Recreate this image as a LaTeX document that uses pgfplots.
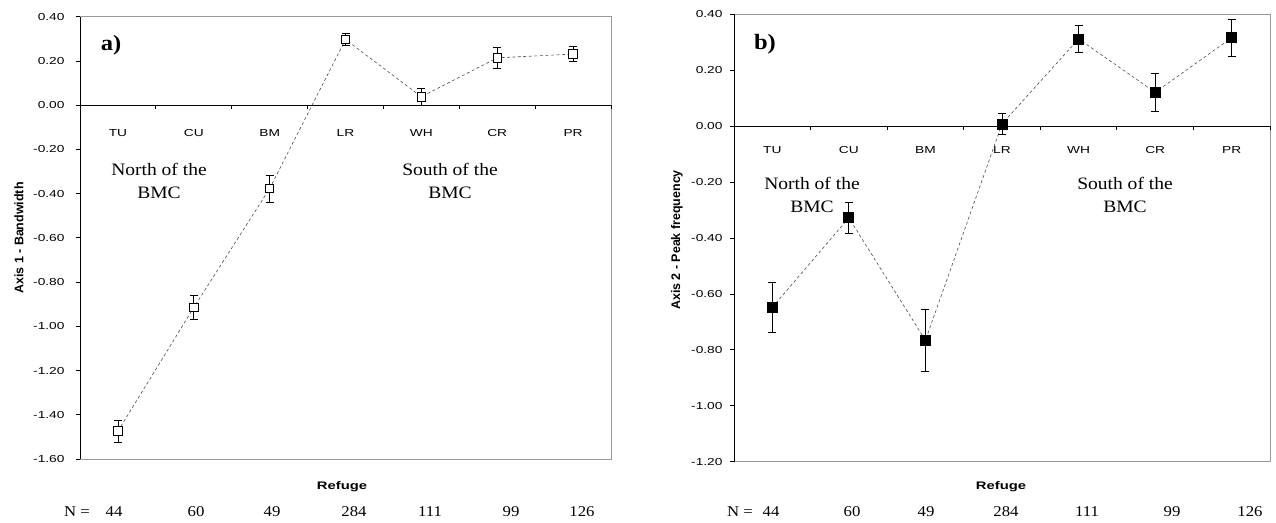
\documentclass[border=0pt]{standalone}
\usepackage{pgfplots}
\usepackage{pgfplotstable}
\pgfplotsset{compat=1.18}
\usepackage{fontspec}
\setmainfont{Liberation Serif}
\newfontfamily\arialw[FakeStretch=1.35]{Liberation Sans}
\newfontfamily\arial{Liberation Sans}
\newfontfamily\timesw[FakeStretch=1.12]{Liberation Serif}

% Panel a: Axis 1 - Bandwidth (mean, half error bar)
\pgfplotstableread{
x y e
0 -1.474 0.049
1 -0.915 0.053
2 -0.377 0.061
3 0.297 0.028
4 0.038 0.040
5 0.214 0.046
6 0.231 0.035
}\dataA
% Panel b: Axis 2 - Peak frequency
\pgfplotstableread{
x y e
0 -0.648 0.088
1 -0.328 0.056
2 -0.766 0.110
3 0.008 0.039
4 0.312 0.048
5 0.121 0.068
6 0.316 0.066
}\dataB

\pgfplotsset{
  panel/.style={
    scale only axis, anchor=south west,
    xmin=-0.5, xmax=6.5,
    axis x line=middle, axis y line=left,
    axis line style={-, black, line width=0.8bp},
    axis background/.style={draw=black!40, line width=0.8bp},
    hide obscured x ticks=false, hide obscured y ticks=false,
    xtick={0,1,2,3,4,5,6},
    xticklabels={TU,CU,BM,LR,WH,CR,PR},
    x tick style={draw=none},
    tick align=outside,
    major tick length=4bp,
    y tick style={black, line width=0.8bp},
    ticklabel style={font=\arialw\fontsize{10.2}{12}\selectfont, text=black},
    yticklabel style={anchor=east},
    clip=false,
  },
  series/.style={
    color=black!70, line width=0.6bp, dash pattern=on 3bp off 2.5bp,
    error bars/y dir=both, error bars/y explicit,
    error bars/error bar style={solid, black, line width=0.8bp},
    error bars/error mark options={rotate=90, solid, black, line width=0.8bp, mark size=4bp},
  },
}

\begin{document}
\begin{tikzpicture}
\useasboundingbox (0bp,0bp) rectangle (1276bp,523bp);

% ---------------- Panel a ----------------
\begin{axis}[panel,
  at={(80bp,64bp)}, width=531bp, height=442.3bp,
  ymin=-1.6, ymax=0.4,
  ytick={-1.6,-1.4,-1.2,-1.0,-0.8,-0.6,-0.4,-0.2,0,0.2,0.4},
  yticklabels={-1.60,-1.40,-1.20,-1.00,-0.80,-0.60,-0.40,-0.20,0.00,0.20,0.40},
  yticklabel style={xshift=-8bp},
  xticklabel style={anchor=center, yshift=-24bp},
]
\pgfplotsinvokeforeach{0.5,1.5,2.5,3.5,4.5,5.5,6.5}{
  \draw[black, line width=0.8bp] (axis cs:#1,0) -- ([yshift=-4bp]axis cs:#1,0);
}
\addplot[series, mark=square*, mark size=4.2bp,
  mark options={solid, draw=black, fill=white, line width=0.9bp}]
  table[x=x, y=y, y error=e] {\dataA};
\end{axis}

% ---------------- Panel b ----------------
\begin{axis}[panel,
  at={(734bp,61.3bp)}, width=536bp, height=447.4bp,
  ymin=-1.2, ymax=0.4,
  ytick={-1.2,-1.0,-0.8,-0.6,-0.4,-0.2,0,0.2,0.4},
  yticklabels={-1.20,-1.00,-0.80,-0.60,-0.40,-0.20,0.00,0.20,0.40},
  yticklabel style={xshift=-4bp},
  xticklabel style={anchor=center, yshift=-20bp},
]
\pgfplotsinvokeforeach{0.5,1.5,2.5,3.5,4.5,5.5,6.5}{
  \draw[black, line width=0.8bp] (axis cs:#1,0) -- ([yshift=-4bp]axis cs:#1,0);
}
\addplot[series, mark=square*, mark size=5bp,
  mark options={solid, draw=black, fill=black, line width=0.8bp}]
  table[x=x, y=y, y error=e] {\dataB};
\end{axis}

% ---------------- Text: panel a ----------------
\node[rotate=90, font=\arial\bfseries\fontsize{12.5}{14}\selectfont] at (19bp,285bp) {Axis 1 - Bandwidth};
\node[font=\arialw\bfseries\fontsize{11}{13}\selectfont] at (342bp,36bp) {Refuge};
\node[font=\timesw\bfseries\fontsize{22}{24}\selectfont] at (111bp,478bp) {a)};
\node[font=\timesw\fontsize{17.5}{23.5}\selectfont, align=center] at (159bp,342bp) {North of the\\BMC};
\node[font=\timesw\fontsize{17.5}{23.5}\selectfont, align=center] at (450bp,342bp) {South of the\\BMC};
\begin{scope}[every node/.style={font=\timesw\fontsize{15}{17}\selectfont}]
\node at (77bp,11bp) {N =};
\node at (114bp,11bp) {44};
\node at (196bp,11bp) {60};
\node at (272bp,11bp) {49};
\node at (354bp,11bp) {284};
\node at (430bp,11bp) {111};
\node at (511bp,11bp) {99};
\node at (582bp,11bp) {126};
\end{scope}

% ---------------- Text: panel b ----------------
\node[rotate=90, font=\arial\bfseries\fontsize{12.5}{14}\selectfont] at (677bp,283bp) {Axis 2 - Peak frequency};
\node[font=\arialw\bfseries\fontsize{11}{13}\selectfont] at (1001bp,36bp) {Refuge};
\node[font=\timesw\bfseries\fontsize{22}{24}\selectfont] at (765bp,479bp) {b)};
\node[font=\timesw\fontsize{17.5}{23.5}\selectfont, align=center] at (812bp,328bp) {North of the\\BMC};
\node[font=\timesw\fontsize{17.5}{23.5}\selectfont, align=center] at (1125bp,328bp) {South of the\\BMC};
\begin{scope}[every node/.style={font=\timesw\fontsize{15}{17}\selectfont}]
\node at (740bp,11bp) {N =};
\node at (771bp,11bp) {44};
\node at (852bp,11bp) {60};
\node at (926bp,11bp) {49};
\node at (1006bp,11bp) {284};
\node at (1087bp,11bp) {111};
\node at (1172bp,11bp) {99};
\node at (1250bp,11bp) {126};
\end{scope}
\end{tikzpicture}
\end{document}
